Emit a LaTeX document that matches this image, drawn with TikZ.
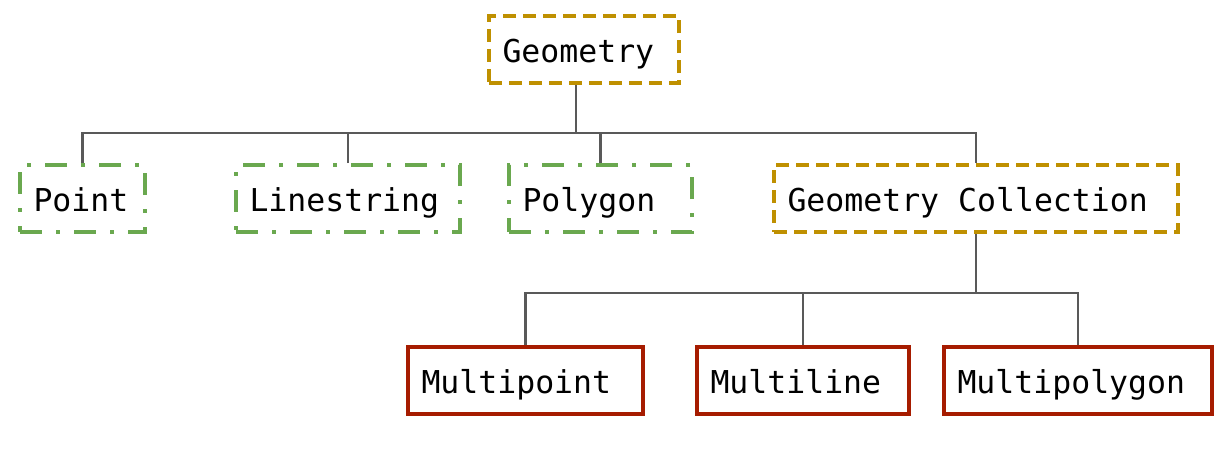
\documentclass[tikz,border=0pt]{standalone}
\usepackage{fontspec}
\setmonofont{DejaVu Sans Mono}
\definecolor{gold}{HTML}{BF9000}
\definecolor{leafgreen}{HTML}{6AA84F}
\definecolor{berry}{HTML}{A61C00}
\definecolor{linegray}{HTML}{595959}
\newcommand{\monospace}{\hspace*{0.602em}}
\tikzset{
	geobox/.style={draw, line width=4pt, anchor=north west, inner xsep=13.5pt, inner ysep=0pt,
		text height=46pt, text depth=21pt, align=left, font=\ttfamily\fontsize{31.5}{36}\selectfont},
	abstractbox/.style={geobox, gold, text=black, dash pattern=on 13pt off 7pt},
	simplebox/.style={geobox, leafgreen, text=black, dash pattern=on 22pt off 14pt on 4pt off 14pt},
	multibox/.style={geobox, berry, text=black},
	conn/.style={linegray, line width=2.2pt}
}
\begin{document}
\begin{tikzpicture}[x=1pt, y=-1pt]
		\useasboundingbox (0,0) rectangle (1232,471);
		
		% top
		\node[abstractbox, text width=163pt] (geo) at (487,14) {Geometry};
		
		% second row
		\node[simplebox, text width=98pt]  (point)   at (18,163)  {Point};
		\node[simplebox, text width=197pt] (lstring) at (234,163) {Linestring};
		\node[simplebox, text width=156pt] (poly)    at (507,163) {Polygon};
		\node[abstractbox, text width=377pt] (coll)  at (772,163) {Geometry\monospace Collection};
		
		% third row
		\node[multibox, text width=208pt] (mpoint) at (406,345) {Multipoint};
		\node[multibox, text width=185pt] (mline)  at (695,345) {Multiline};
		\node[multibox, text width=241pt] (mpoly)  at (942,345) {Multipolygon};
		
		\coordinate (bar1) at (576,133);
		\coordinate (bar2) at (976,293);
		
		\draw[conn] (geo.south -| bar1) -- (bar1);
		\draw[conn] (point.north) -- (point.north |- bar1) -- (coll.north |- bar1) -- (coll.north);
		\draw[conn] (lstring.north) -- (lstring.north |- bar1);
		\draw[conn] (poly.north) -- (poly.north |- bar1);
		
		\draw[conn] (coll.south) -- (coll.south |- bar2);
		\draw[conn] (mpoint.north) -- (mpoint.north |- bar2) -- (mpoly.north |- bar2) -- (mpoly.north);
		\draw[conn] (mline.north) -- (mline.north |- bar2);
\end{tikzpicture}
\end{document}
